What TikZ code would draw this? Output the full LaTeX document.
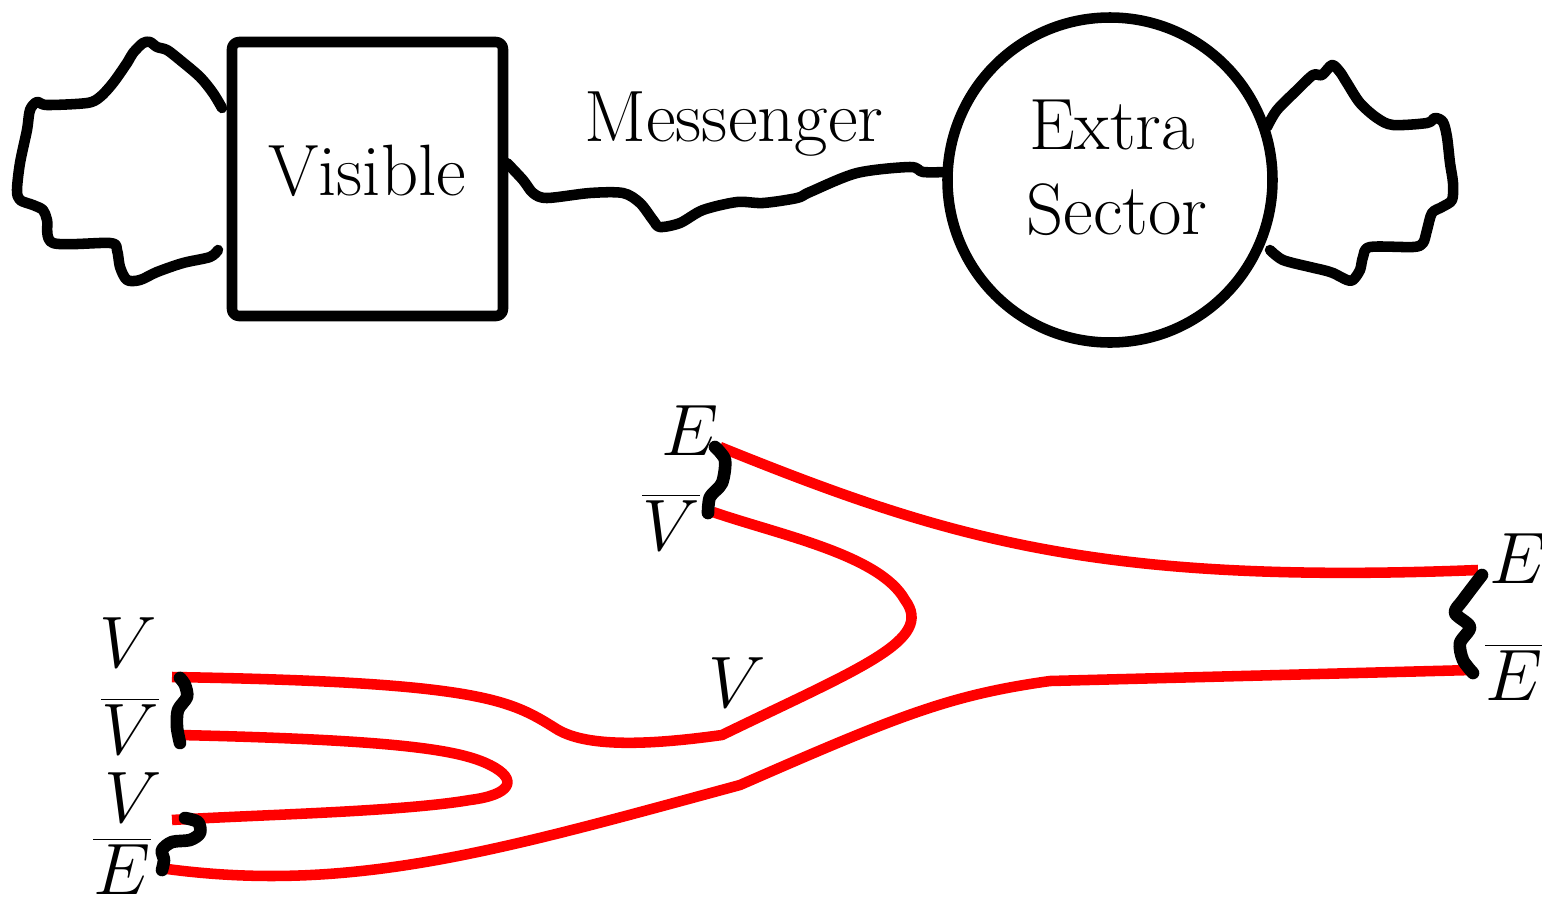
\documentclass[tikz,border=0pt]{standalone}
\usetikzlibrary{positioning}
\tikzset{
  wig/.style={line width=3pt, line cap=round, line join=round},
  knot/.style={line width=3.6pt, line cap=round, line join=round},
  quark/.style={red, line width=3pt, line join=round},
  lab/.style={font=\fontsize{20.7}{24}\selectfont, inner sep=0pt}
}
\begin{document}
\begin{tikzpicture}[x=0.1mm, y=-0.1mm]
\useasboundingbox (0,0) rectangle (1542,905);
% top: the two sectors
\node[draw, wig, minimum width=2.71cm, minimum height=2.74cm, rounded corners=2pt] (vis) at (367.5,179) {};
\node[lab] (vistext) at (367,171) {Visible};
\node[draw, wig, circle, minimum size=3.25cm] (extra) at (1110,180) {};
\node[lab] (extratext) at (1112,125) {Extra};
\node[lab] (sectortext) at (1117,210) {Sector};
\node[lab] (mess) at (734,124) {Messenger};
\draw[wig] plot[smooth, tension=0.5] coordinates {(507,163) (523,180) (533,193) (547,198) (590,193) (623,193) (640,203) (653,220) (660,227) (680,223) (703,210) (737,202) (763,203) (797,198) (810,192) (857,173) (910,167) (923,172) (947,172)};
\draw[wig] plot[smooth, tension=0.5] coordinates {(222,108) (213,93) (200,77) (180,60) (167,50) (157,47) (150,42) (143,43) (133,53) (127,63) (113,83) (100,97) (87,103) (47,105) (37,102) (30,110) (27,130) (20,163) (17,190) (20,200) (33,205) (43,210) (47,220) (53,243) (110,243) (117,250) (120,267) (127,280) (140,280) (157,272) (183,263) (210,257) (218,250)};
\draw[wig] plot[smooth, tension=0.5] coordinates {(1267,127) (1277,110) (1297,90) (1313,75) (1322,75) (1332,65) (1340,72) (1347,83) (1360,103) (1377,118) (1393,125) (1427,123) (1435,118) (1443,122) (1447,137) (1450,163) (1453,183) (1452,200) (1442,207) (1432,213) (1427,230) (1423,243) (1413,247) (1370,247) (1363,257) (1360,270) (1353,280) (1347,280) (1333,273) (1323,270) (1310,267) (1283,260) (1270,250)};
% bottom: the strings
\draw[quark] (720,447) .. controls (950,540) and (1100,585) .. (1478,570);
\draw[quark] (172,677) .. controls (480,682) and (510,700) .. (555,728) .. controls (585,748) and (650,745) .. (722,735)
  .. controls (860,668) and (935,640) .. (905,600) .. controls (880,555) and (780,535) .. (713,512);
\draw[quark] (180,735) .. controls (400,740) and (460,750) .. (490,765) .. controls (520,780) and (510,795) .. (470,800)
  .. controls (400,812) and (250,815) .. (172,820);
\draw[quark] (160,868) .. controls (350,895) and (500,850) .. (740,785) .. controls (900,715) and (950,695) .. (1050,681) -- (1472,670);
\draw[knot] plot[smooth] coordinates {(180,678) (185,685) (187,697) (178,710) (177,727) (180,743)};
\draw[knot] plot[smooth] coordinates {(185,818) (198,822) (200,833) (190,840) (172,842) (162,850) (164,860) (162,870)};
\draw[knot] plot[smooth] coordinates {(715,447) (725,460) (722,483) (710,497) (708,513)};
\draw[knot] plot[smooth] coordinates {(1482,575) (1463,600) (1455,613) (1470,627) (1460,643) (1463,660) (1473,673)};
\node[lab] (e1) at (690,431) {$E$};
\node[lab] (vb1) at (671,522) {$\overline{V}$};
\node[lab] (e2) at (1518,559) {$E$};
\node[lab] (eb2) at (1514,672) {$\overline{E}$};
\node[lab] (v3) at (128,643) {$V$};
\node[lab] (vb3) at (130,726) {$\overline{V}$};
\node[lab] (v4) at (133,798) {$V$};
\node[lab] (eb4) at (122,866) {$\overline{E}$};
\node[lab] (v5) at (737,683) {$V$};
\end{tikzpicture}
\end{document}
